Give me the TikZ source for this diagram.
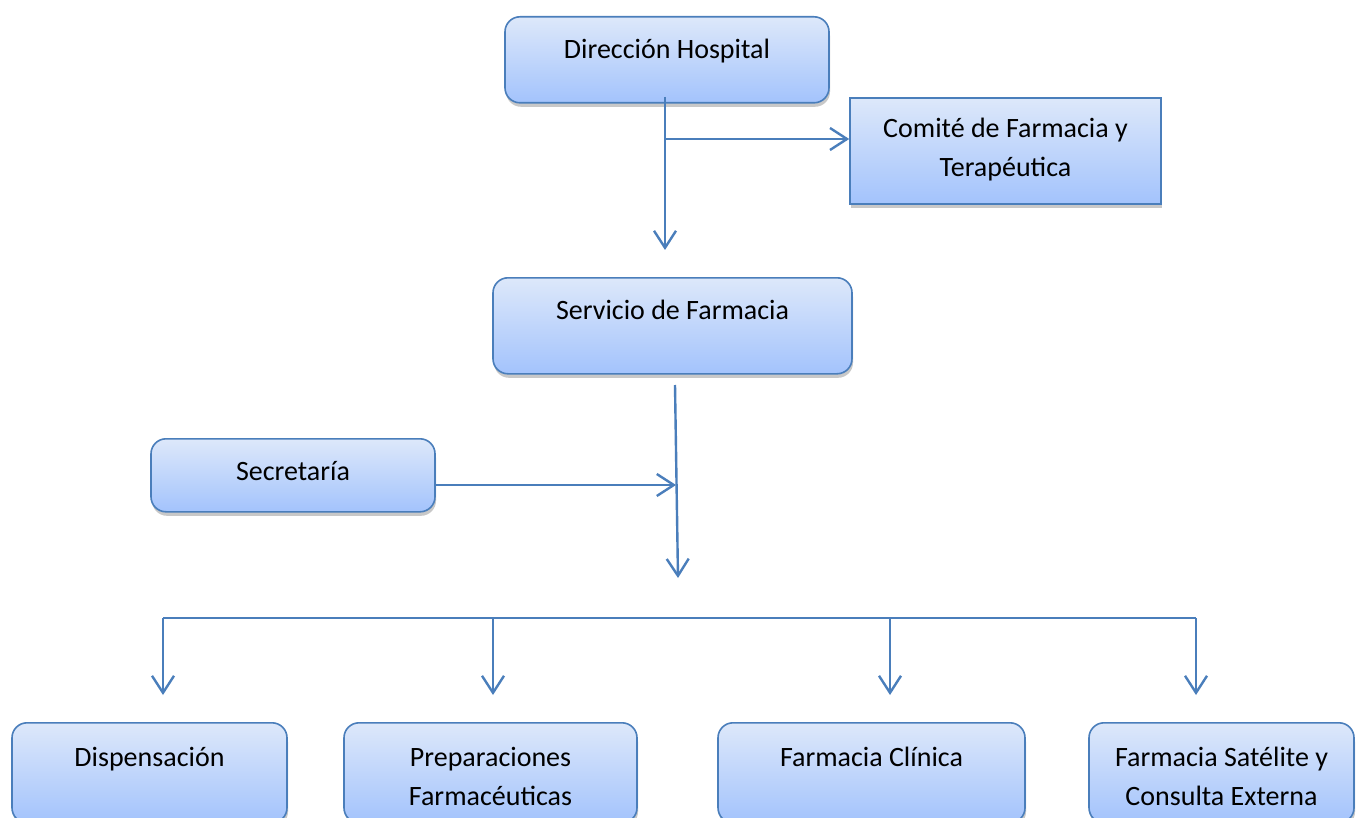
\documentclass[tikz,border=0pt]{standalone}
\usepackage{fontspec}
\setmainfont{Carlito}
\usetikzlibrary{arrows.meta,shadows}
\definecolor{linea}{HTML}{4A7EBB}
\definecolor{cajaarriba}{HTML}{DDE8FA}
\definecolor{cajaabajo}{HTML}{A3C3FC}
\tikzset{
    caja/.style={draw=linea, line width=1.6pt, top color=cajaarriba, bottom color=cajaabajo,
        inner sep=0pt, text height=42pt, anchor=north, align=center,
        drop shadow={shadow xshift=1pt, shadow yshift=-4pt, opacity=0.3, fill=black!70}},
    redonda/.style={caja, rounded corners=15pt},
    conn/.style={draw=linea, line width=2.4pt, -{Straight Barb[length=17pt,width=22pt,line width=2.4pt]}},
    linea/.style={draw=linea, line width=2.4pt}
}

\begin{document}
\begin{tikzpicture}[x=1pt,y=-1pt]
            \clip (0,0) rectangle (1356,818);
            \fill[white] (0,0) rectangle (1356,818);
            \fontsize{28}{39}\selectfont
            \node[redonda, minimum width=324pt, text depth=44pt] (dir) at (667,16) {Dirección Hospital};
            \node[caja, minimum width=311pt, text height=79pt, text depth=27pt] (comite) at (1005.5,97) {Comité de Farmacia y\\Terapéutica};
            \node[redonda, minimum width=359pt, text depth=54pt] (serv) at (672.5,277) {Servicio de Farmacia};
            \node[redonda, minimum width=284pt, text depth=31pt] (secr) at (293,438) {Secretaría};
            \node[redonda, minimum width=275pt, text height=44pt, text depth=56pt] (disp) at (149.5,722) {Dispensación};
            \node[redonda, minimum width=293pt, text height=83pt, text depth=17pt] (prep) at (490.5,722) {Preparaciones\\Farmacéuticas};
            \node[redonda, minimum width=307pt, text height=44pt, text depth=56pt] (clin) at (871.5,722) {Farmacia Clínica};
            \node[redonda, minimum width=265pt, text height=83pt, text depth=17pt] (sat) at (1221.5,722) {Farmacia Satélite y\\Consulta Externa};
            % conectores
            \coordinate (d0) at (665,97);
            \coordinate (d1) at (665,250);
            \coordinate (d2) at (665,139);
            \draw[conn] (d0) -- (d1);
            \draw[conn] (d2) -- (comite.west |- d2);
            \coordinate (s0) at (675,385);
            \coordinate (s1) at (678,578);
            \coordinate (s2) at (676,485);
            \draw[conn] (s0) -- (s1);
            \draw[conn] (secr.east |- s2) -- (s2);
            \coordinate (b0) at (163,618);
            \coordinate (b1) at (1196,618);
            \draw[linea] (b0) -- (b1);
            \foreach \x/\n in {163/disp,493/prep,890/clin,1196/sat} {
                \draw[conn] (\x,618) -- (\x,695);
            }
\end{tikzpicture}
\end{document}
